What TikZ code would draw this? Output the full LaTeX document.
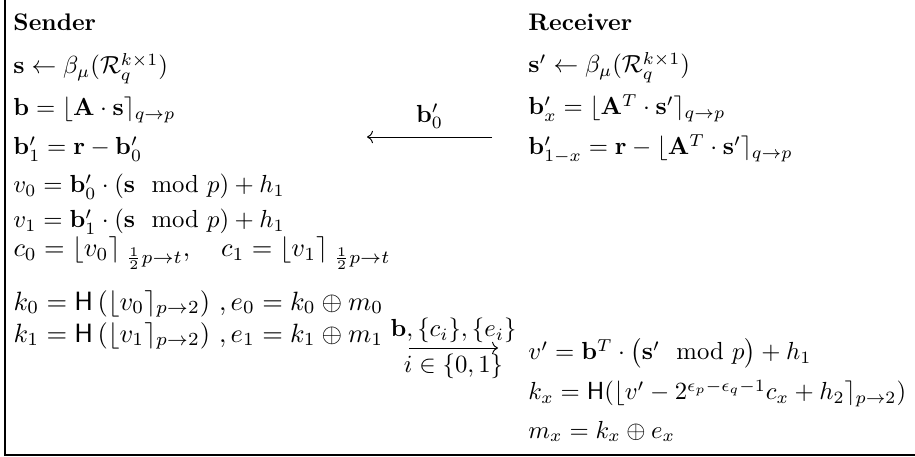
\documentclass[tikz,border=0pt]{standalone}
\usepackage{amsmath,amssymb}
\usetikzlibrary{calc,arrows.meta}
\usetikzlibrary{positioning}

\begin{document}
\begin{tikzpicture}[x=0.4167pt, y=-0.4167pt,
  every node/.style={inner sep=0pt, anchor=base west, scale=1.03},
  role/.style={scale=0.97, font=\bfseries},
  wide/.style={scale=1.07},
  msg/.style={draw=black, line width=0.4pt, ->}
]
\useasboundingbox (0,0) rectangle (915,457);

% Frame (left and bottom rule)
\draw[line width=0.6pt] (5,0) -- (5,455) -- (915,455);

% Sender column
\node[role] (S0) at (13,31)  {Sender};
\node (S1) at (13,74)  {$\mathbf{s}\leftarrow\beta_{\mu}(\mathcal{R}_q^{k\times 1})$};
\node (S2) at (13,116) {$\mathbf{b}=\lfloor\mathbf{A}\cdot\mathbf{s}\rceil_{q\to p}$};
\node (S3) at (13,155) {$\mathbf{b}'_1=\mathbf{r}-\mathbf{b}'_0$};
\node (S4) at (13,193) {$v_0=\mathbf{b}'_0\cdot(\mathbf{s}\mod p)+h_1$};
\node (S5) at (13,228) {$v_1=\mathbf{b}'_1\cdot(\mathbf{s}\mod p)+h_1$};
\node[wide] (S6) at (13,257) {$c_0=\lfloor v_0\rceil_{\mkern5mu\frac{1}{2}p\to t},\quad c_1=\lfloor v_1\rceil_{\mkern5mu\frac{1}{2}p\to t}$};
\node[wide] (S7) at (13,310) {$k_0=\mathsf{H}\left(\lfloor v_0\rceil_{p\to 2}\right)\,,e_0=k_0\oplus m_0$};
\node[wide] (S8) at (13,342) {$k_1=\mathsf{H}\left(\lfloor v_1\rceil_{p\to 2}\right)\,,e_1=k_1\oplus m_1$};

% Receiver column
\node[role] (R0) at (528,31)  {Receiver};
\node (R1) at (528,73)  {$\mathbf{s}'\leftarrow\beta_{\mu}(\mathcal{R}_q^{k\times 1})$};
\node (R2) at (528,115) {$\mathbf{b}'_x=\lfloor\mathbf{A}^T\cdot\mathbf{s}'\rceil_{q\to p}$};
\node (R3) at (528,155) {$\mathbf{b}'_{1-x}=\mathbf{r}-\lfloor\mathbf{A}^T\cdot\mathbf{s}'\rceil_{q\to p}$};
\node (R4) at (528,360) {$v'=\mathbf{b}^T\cdot\big(\mathbf{s}'\mod p\big)+h_1$};
\node (R5) at (528,400) {$k_x=\mathsf{H}(\lfloor v'-2^{\epsilon_p-\epsilon_q-1}c_x+h_2\rceil_{p\to 2})$};
\node (R6) at (528,438) {$m_x=k_x\oplus e_x$};

% ---- Messages ----
\coordinate (m1R) at (492,137);
\coordinate (m1L) at (367,137);
\coordinate (m2L) at (409,348);
\coordinate (m2R) at (498,348);

\draw[msg] (m1R) -- node[anchor=base, yshift=5.8pt] (m1top) {$\mathbf{b}'_0$} (m1L);
\draw[msg] (m2L) -- node[anchor=base, yshift=4.6pt] (m2top) {$\mathbf{b},\{c_i\},\{e_i\}$}
                    node[anchor=base, yshift=-10pt] (m2bot) {$i\in\{0,1\}$} (m2R);

\end{tikzpicture}
\end{document}
